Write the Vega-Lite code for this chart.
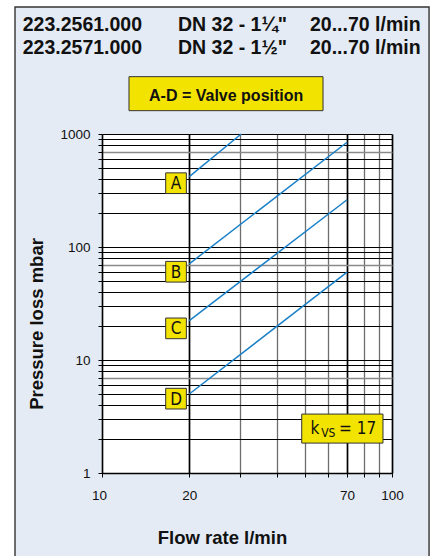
{
  "$schema": "https://vega.github.io/schema/vega-lite/v6.json",
  "width": 290,
  "height": 339,
  "autosize": {"type": "none"},
  "padding": {"left": 102, "top": 134, "right": 46, "bottom": 83},
  "background": "#e4ebf4",
  "view": {"stroke": null, "fill": "white"},
  "config": {"font": "Liberation Sans"},
  "datasets": {
    "curves": [
      {"valve": "A", "flow": 20, "loss": 420},
      {"valve": "A", "flow": 30.2, "loss": 1000},
      {"valve": "B", "flow": 20, "loss": 71},
      {"valve": "B", "flow": 70, "loss": 845},
      {"valve": "C", "flow": 20, "loss": 22.3},
      {"valve": "C", "flow": 70, "loss": 262},
      {"valve": "D", "flow": 20, "loss": 5.0},
      {"valve": "D", "flow": 70, "loss": 60}
    ],
    "labels": [
      {"valve": "A", "flow": 18.0, "loss": 367},
      {"valve": "B", "flow": 18.0, "loss": 60.4},
      {"valve": "C", "flow": 18.0, "loss": 19.05},
      {"valve": "D", "flow": 18.0, "loss": 4.55}
    ],
    "header": [
      {"text": "223.2561.000", "flow": 5.33, "loss": 8106},
      {"text": "DN 32 - 1¼\"", "flow": 18.28, "loss": 8106},
      {"text": "20...70 l/min", "flow": 52.15, "loss": 8106},
      {"text": "223.2571.000", "flow": 5.33, "loss": 5144},
      {"text": "DN 32 - 1½\"", "flow": 18.28, "loss": 5144},
      {"text": "20...70 l/min", "flow": 52.15, "loss": 5144}
    ],
    "strips": [
      {"flow": 0.01, "flow2": 5.012, "loss": 0.0001, "loss2": 10000000},
      {"flow": 0.01, "flow2": 100000, "loss": 13281, "loss2": 10000000},
      {"flow": 134.2, "flow2": 100000, "loss": 0.0001, "loss2": 10000000}
    ],
    "outline": [
      {"flow": 5.012, "flow2": 134.2, "loss": 0.001, "loss2": 13281}
    ],
    "legendbox": [
      {"flow": 12.39, "flow2": 57.83, "loss": 1609, "loss2": 3217}
    ],
    "legendtext": [
      {"text": "A-D = Valve position", "flow": 26.8, "loss": 1972}
    ],
    "kvsbox": [
      {"flow": 48.83, "flow2": 93.1, "loss": 1.839, "loss2": 3.323}
    ],
    "kvsmain": [
      {"text": "k", "flow": 52.4, "loss": 2.224},
      {"text": "= 17", "flow": 65.65, "loss": 2.224}
    ],
    "kvssub": [
      {"text": "VS", "flow": 57.0, "loss": 2.094}
    ]
  },
  "encoding": {
    "x": {
      "field": "flow",
      "type": "quantitative",
      "scale": {"type": "log", "domain": [10, 100]},
      "axis": {
        "values": [10, 20, 30, 40, 50, 60, 70, 80, 90, 100],
        "labelExpr": "datum.value == 10 || datum.value == 20 || datum.value == 70 || datum.value == 100 ? format(datum.value, 'd') : ''",
        "labelFlush": false,
        "labelOverlap": false,
        "labelFont": "Liberation Sans",
        "labelFontSize": 13.5,
        "labelColor": "#111",
        "labelPadding": 11,
        "labelOffset": {"condition": {"test": "datum.value == 10", "value": -3}, "value": 0},
        "tickSize": 4,
        "tickColor": "#000",
        "tickWidth": 1,
        "domainColor": "#000",
        "domainWidth": 1.5,
        "grid": true,
        "gridOpacity": 1,
        "gridColor": {"condition": {"test": "datum.value == 20 || datum.value == 70 || datum.value == 100", "value": "#000"}, "value": "#6e6e6e"},
        "gridWidth": {"condition": {"test": "datum.value == 20 || datum.value == 70 || datum.value == 100", "value": 1.7}, "value": 1.3},
        "title": "Flow rate l/min",
        "titleFont": "Liberation Sans",
        "titleFontSize": 18.5,
        "titleFontWeight": "bold",
        "titleColor": "#111",
        "titleX": 120,
        "titleY": 70,
        "titleAlign": "center",
        "titleBaseline": "alphabetic"
      }
    },
    "y": {
      "field": "loss",
      "type": "quantitative",
      "scale": {"type": "log", "domain": [1, 1000]},
      "axis": {
        "values": [1, 2, 3, 4, 5, 6, 7, 8, 9, 10, 20, 30, 40, 50, 60, 70, 80, 90, 100, 200, 300, 400, 500, 600, 700, 800, 900, 1000],
        "labelExpr": "datum.value == 1 || datum.value == 10 || datum.value == 100 || datum.value == 1000 ? format(datum.value, 'd') : ''",
        "labelFlush": false,
        "labelOverlap": false,
        "labelFont": "Liberation Sans",
        "labelFontSize": 13.5,
        "labelColor": "#111",
        "labelPadding": 8,
        "tickSize": 4,
        "tickColor": "#000",
        "tickWidth": 1,
        "domainColor": "#000",
        "domainWidth": 1.5,
        "grid": true,
        "gridOpacity": 1,
        "gridColor": {"condition": {"test": "datum.value == 7 || datum.value == 70 || datum.value == 700", "value": "#8a8a8a"}, "value": "#000"},
        "gridWidth": {"condition": {"test": "datum.value == 7 || datum.value == 70 || datum.value == 700", "value": 1.6}, "value": 1},
        "title": "Pressure loss mbar",
        "titleFont": "Liberation Sans",
        "titleFontSize": 18.5,
        "titleFontWeight": "bold",
        "titleColor": "#111",
        "titleAngle": 270,
        "titleX": -60,
        "titleY": 189.5,
        "titleAlign": "center",
        "titleBaseline": "alphabetic"
      }
    }
  },
  "layer": [
    {
      "data": {"name": "strips"},
      "mark": {"type": "rect", "fill": "white", "stroke": null, "opacity": 1},
      "encoding": {"x2": {"field": "flow2"}, "y2": {"field": "loss2"}}
    },
    {
      "data": {"name": "outline"},
      "mark": {"type": "rect", "fill": null, "stroke": "#333", "strokeWidth": 1.4, "opacity": 1},
      "encoding": {"x2": {"field": "flow2"}, "y2": {"field": "loss2"}}
    },
    {
      "data": {"name": "curves"},
      "mark": {"type": "line", "color": "#1a80c8", "strokeWidth": 1.5},
      "encoding": {"detail": {"field": "valve"}}
    },
    {
      "data": {"name": "labels"},
      "mark": {"type": "point", "shape": "square", "filled": true, "size": 428, "fill": "#f3e300", "stroke": "#333", "strokeWidth": 1, "opacity": 1},
      "encoding": {}
    },
    {
      "data": {"name": "labels"},
      "mark": {"type": "text", "font": "Liberation Sans Narrow, DejaVu Sans Condensed, Liberation Sans", "fontSize": 17, "align": "center", "baseline": "middle", "dy": 1, "color": "#111"},
      "encoding": {"text": {"field": "valve"}}
    },
    {
      "data": {"name": "legendbox"},
      "mark": {"type": "rect", "fill": "#f3e300", "stroke": "#333", "strokeWidth": 1, "opacity": 1},
      "encoding": {"x2": {"field": "flow2"}, "y2": {"field": "loss2"}}
    },
    {
      "data": {"name": "legendtext"},
      "mark": {"type": "text", "font": "Liberation Sans", "fontWeight": "bold", "fontSize": 16, "align": "center", "baseline": "alphabetic", "color": "#111"},
      "encoding": {"text": {"field": "text"}}
    },
    {
      "data": {"name": "kvsbox"},
      "mark": {"type": "rect", "fill": "#f3e300", "stroke": "#333", "strokeWidth": 1, "opacity": 1},
      "encoding": {"x2": {"field": "flow2"}, "y2": {"field": "loss2"}}
    },
    {
      "data": {"name": "kvsmain"},
      "mark": {"type": "text", "font": "Liberation Sans Narrow, DejaVu Sans Condensed, Liberation Sans", "fontSize": 17, "align": "left", "baseline": "alphabetic", "color": "#111"},
      "encoding": {"text": {"field": "text"}}
    },
    {
      "data": {"name": "kvssub"},
      "mark": {"type": "text", "font": "Liberation Sans Narrow, DejaVu Sans Condensed, Liberation Sans", "fontSize": 12, "align": "left", "baseline": "alphabetic", "color": "#111"},
      "encoding": {"text": {"field": "text"}}
    },
    {
      "data": {"name": "header"},
      "mark": {"type": "text", "font": "Liberation Sans", "fontWeight": "bold", "fontSize": 19.5, "align": "left", "baseline": "alphabetic", "color": "#111"},
      "encoding": {"text": {"field": "text"}}
    }
  ]
}
